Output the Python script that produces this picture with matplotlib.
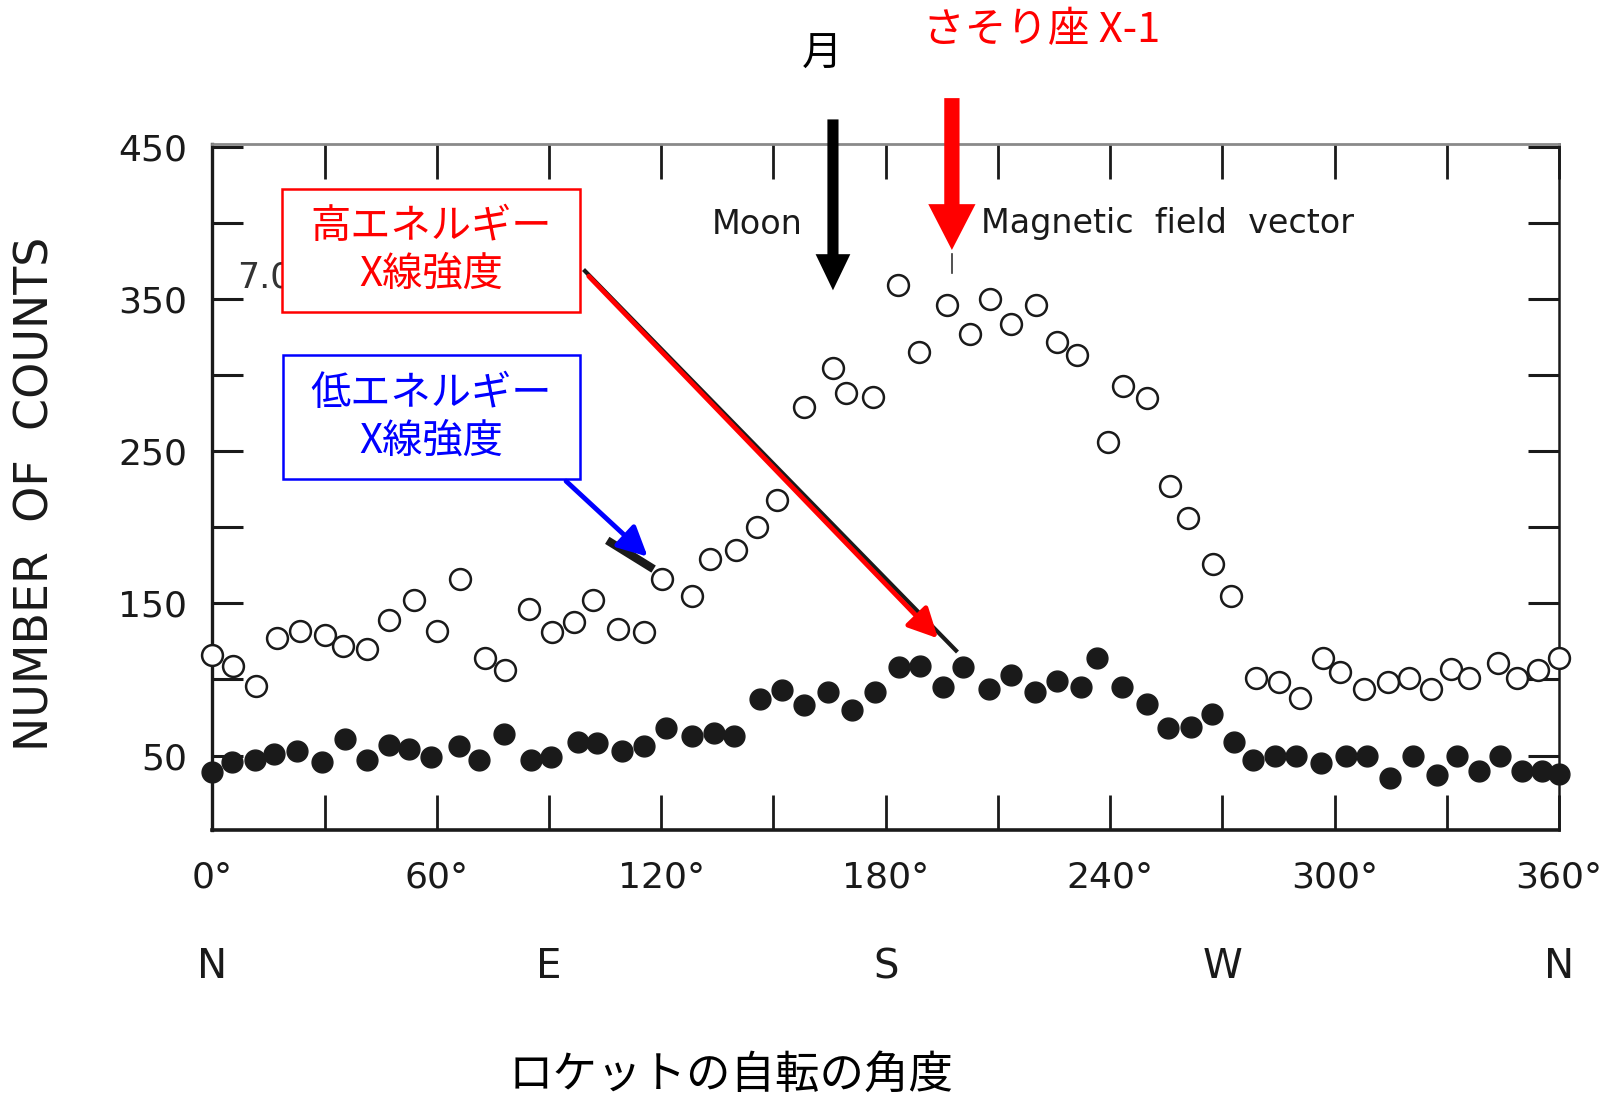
import numpy as np
import matplotlib
matplotlib.use('Agg')
import matplotlib.pyplot as plt
from matplotlib.patches import Rectangle, FancyArrowPatch
import matplotlib.transforms as mtransforms

# rocket spin angle (deg) and counts
# open circles: high energy counter
angle_open = [0, 5.4, 11.6, 17.3, 23.4, 30.1, 34.8, 41.4, 47.3, 53.9, 60.1, 66.3, 72.8, 78.2,
              84.7, 90.9, 96.6, 101.8, 108.5, 115.3, 120.3, 128.3, 133.0, 140.1, 145.6, 151.0,
              158.2, 165.8, 169.3, 176.5, 183.3, 188.9, 196.4, 202.5, 207.8, 213.6, 220.1, 225.8,
              231.2, 239.5, 243.5, 250.0, 256.1, 260.7, 267.5, 272.4, 278.9, 285.1, 290.7, 296.9,
              301.4, 307.9, 314.2, 319.9, 325.7, 331.1, 336.0, 343.6, 348.9, 354.5, 360.0]
counts_open = [116, 109, 96, 127, 132, 129, 122, 120, 139, 152, 132, 166, 114, 106,
               146, 131, 138, 152, 133, 131, 166, 155, 179, 185, 200, 218,
               279, 305, 288, 286, 359, 315, 346, 327, 350, 334, 346, 322,
               313, 256, 293, 285, 227, 206, 176, 155, 101, 98, 88, 114,
               105, 94, 98, 101, 94, 107, 101, 111, 101, 106, 114]

# filled circles: low energy counter
angle_fill = [0, 5.1, 11.4, 16.4, 22.7, 29.4, 35.4, 41.2, 47.2, 52.6, 58.3, 65.9, 71.3, 77.9,
              85.1, 90.4, 97.8, 102.7, 109.4, 115.3, 121.2, 128.1, 134.1, 139.4, 146.5, 152.2,
              158.1, 164.6, 170.9, 177.1, 183.6, 189.1, 195.2, 200.7, 207.6, 213.4, 219.9, 225.8,
              232.1, 236.5, 243.3, 250.0, 255.5, 261.5, 267.3, 273.1, 278.2, 284.0, 289.8, 296.3,
              303.2, 308.6, 314.8, 320.9, 327.4, 332.7, 338.6, 344.2, 350.0, 355.6, 360.0]
counts_fill = [39, 46, 47, 51, 53, 46, 61, 47, 57, 54, 49, 56, 47, 64,
               47, 49, 59, 58, 53, 56, 68, 63, 65, 63, 87, 93,
               83, 92, 80, 92, 108, 109, 95, 108, 94, 103, 92, 99,
               95, 114, 95, 84, 68, 69, 77, 59, 47, 50, 50, 45,
               50, 50, 35, 50, 37, 50, 40, 50, 40, 40, 38]

xticks = np.arange(0, 361, 30)
xlabels = [f'{int(t)}°' if t % 60 == 0 else '' for t in xticks]
yticks = np.arange(50, 451, 50)
ylabels = [str(t) if t % 100 == 50 else '' for t in yticks]
compass = ['N', 'E', 'S', 'W', 'N']
compass_deg = [0, 90, 180, 270, 360]

jp = ['Noto Sans CJK JP', 'DejaVu Sans']

fig = plt.figure(figsize=(16.22, 11.01), dpi=100)
ax = fig.add_axes([0.1310, 0.2461, 0.8301, 0.6231])

ax.plot(angle_open, counts_open, 'o', ms=15, mfc='white', mec='#1a1a1a', mew=1.8,
        clip_on=False, zorder=3)
ax.plot(angle_fill, counts_fill, 'o', ms=15, mfc='#1a1a1a', mec='#1a1a1a',
        clip_on=False, zorder=3)

ax.set_xlim(0, 360)
ax.set_ylim(1, 452)
ax.set_xticks(xticks)
ax.set_xticklabels(xlabels)
ax.set_yticks(yticks)
ax.set_yticklabels(ylabels)
ax.tick_params(axis='x', direction='in', top=True, length=25, width=2, pad=22,
               labelsize=26, color='#1a1a1a', labelcolor='#1a1a1a')
ax.tick_params(axis='y', direction='in', right=True, length=22, width=2.2, pad=18,
               labelsize=26, color='#1a1a1a', labelcolor='#1a1a1a')

ax.spines['left'].set_linewidth(2.4)
ax.spines['bottom'].set_linewidth(2.6)
ax.spines['right'].set_linewidth(1.8)
ax.spines['top'].set_linewidth(2)
ax.spines['top'].set_color('#8a8a8a')
for s in ['left', 'bottom', 'right']:
    ax.spines[s].set_color('#1a1a1a')

# compass directions under the degree labels
trans = mtransforms.blended_transform_factory(ax.transData, fig.transFigure)
for d, c in zip(compass_deg, compass):
    ax.text(d, 0.1217, c, transform=trans, ha='center', va='center', fontsize=29,
            color='#1a1a1a')

fig.text(0.0222, 0.551, 'NUMBER  OF  COUNTS', rotation=90, ha='center', va='center',
         fontsize=33, color='#1a1a1a')
fig.text(0.451, 0.024, 'ロケットの自転の角度', ha='center', va='center', fontsize=32,
         family=jp)

# labels printed inside the original plot
ax.text(133.5, 399.3, 'Moon', fontsize=24, va='center', color='#1a1a1a')
ax.text(205.4, 399.8, 'Magnetic  field  vector', fontsize=24, va='center', color='#1a1a1a')
ax.text(6.5, 364, '7.0', fontsize=25, va='center', color='#333333', zorder=1)

# moon and Sco X-1 arrows above the plot
ax.annotate('', xy=(165.9, 354), xytext=(165.9, 470), annotation_clip=False,
            arrowprops=dict(arrowstyle='simple,head_length=26,head_width=25,tail_width=8',
                            mutation_scale=1, color='black', lw=0))
ax.annotate('', xy=(197.7, 380.5), xytext=(197.7, 484), annotation_clip=False,
            arrowprops=dict(arrowstyle='simple,head_length=33,head_width=34,tail_width=11',
                            mutation_scale=1, color='red', lw=0))
ax.plot([197.7, 197.7], [380, 367], color='#333333', lw=1.2)
fig.text(0.507, 0.951, '月', ha='center', va='center', fontsize=29, family=jp)
fig.text(0.642, 0.972, 'さそり座 X-1', ha='center', va='center', fontsize=30,
         color='red', family=jp)

# annotation boxes
ax.add_patch(Rectangle((18.6, 341.4), 79.6, 81.0, fc='white', ec='red', lw=1.8,
                       zorder=5, clip_on=False))
ax.text(58.4, 382, '高エネルギー\nX線強度', ha='center', va='center', fontsize=29,
        color='red', family=jp, linespacing=1.2, zorder=6)
ax.add_patch(Rectangle((18.8, 231.6), 79.4, 81.6, fc='white', ec='blue', lw=1.8,
                       zorder=5, clip_on=False))
ax.text(58.4, 272.4, '低エネルギー\nX線強度', ha='center', va='center', fontsize=29,
        color='blue', family=jp, linespacing=1.2, zorder=6)

# pointer arrows: the black scanned originals under the coloured ones
ax.plot([99.6, 198.8], [368.5, 119], color='#1a1a1a', lw=3, zorder=4)
ax.plot([106.5, 117.0], [190, 174], color='#1a1a1a', lw=6, zorder=4)
ax.add_patch(FancyArrowPatch((100.1, 366.4), (194.5, 125.7), mutation_scale=1,
                             arrowstyle='-|>,head_length=18,head_width=9',
                             color='red', lw=3.5, zorder=5))
ax.add_patch(FancyArrowPatch((94.0, 231.6), (116.9, 179.5), mutation_scale=1,
                             arrowstyle='-|>,head_length=18,head_width=9',
                             color='blue', lw=3.5, zorder=5))

fig.savefig('out.png', dpi=100)
